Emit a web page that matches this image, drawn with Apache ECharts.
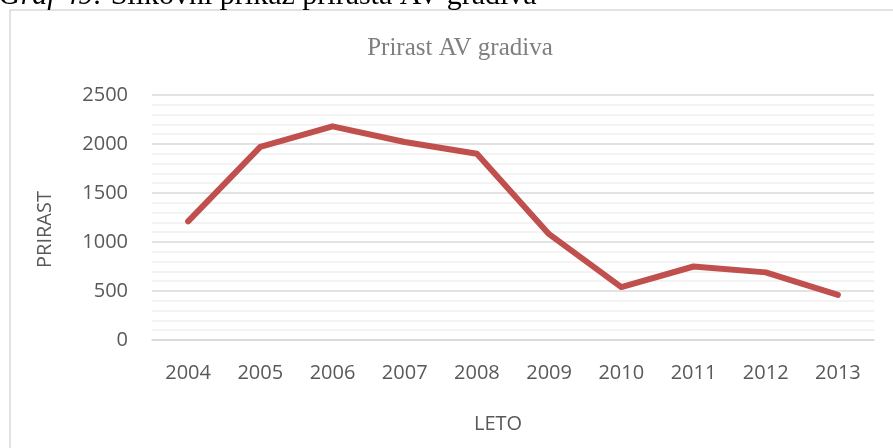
<!DOCTYPE html>
<html>
<head>
<meta charset="utf-8">
<script src="https://cdn.jsdelivr.net/npm/echarts@6/dist/echarts.min.js"></script>
<style>
  html, body { margin: 0; padding: 0; background: #fff; }
  #chart { width: 893px; height: 448px; }
</style>
</head>
<body>
<div id="chart"></div>
<script>
// podatki
const years = ['2004', '2005', '2006', '2007', '2008', '2009', '2010', '2011', '2012', '2013'];
const prirast = [1210, 1970, 2180, 2020, 1900, 1080, 540, 750, 690, 460];

const chart = echarts.init(document.getElementById('chart'));

const labelFont = '"Open Sans", "Liberation Sans", sans-serif';
const serifFont = '"Liberation Serif", "DejaVu Serif", serif';

let option = {
  animation: false,
  title: {
    text: 'Prirast AV gradiva',
    left: 455,
    textAlign: 'center',
    top: 31,
    textStyle: {
      fontFamily: serifFont,
      fontWeight: 'normal',
      fontSize: 25,
      color: '#7f7f7f'
    }
  },
  graphic: [
    {
      type: 'rect',
      shape: { x: 10, y: 10, width: 900, height: 460 },
      style: { fill: 'none', stroke: '#d9d9d9', lineWidth: 1.5 },
      silent: true
    },
    {
      type: 'text',
      left: -1,
      top: -19,
      style: {
        text: '{i|Graf 49:} Slikovni prikaz prirasta AV gradiva',
        font: '30px "Liberation Serif", serif',
        fill: '#000',
        rich: {
          i: { fontStyle: 'italic', fontFamily: serifFont, fontSize: 30, fill: '#000' }
        }
      },
      silent: true
    }
  ],
  grid: {
    left: 152,
    right: 19,
    top: 95,
    bottom: 108
  },
  xAxis: {
    type: 'category',
    data: years,
    boundaryGap: true,
    name: 'LETO',
    nameLocation: 'middle',
    nameGap: 74,
    nameTextStyle: {
      fontFamily: labelFont,
      fontSize: 20,
      color: '#595959',
      padding: [0, 30, 0, 0]
    },
    axisLine: { show: true, lineStyle: { color: '#d9d9d9', width: 1.5 } },
    axisTick: { show: false },
    axisLabel: {
      margin: 23,
      fontFamily: labelFont,
      fontSize: 20,
      color: '#595959'
    }
  },
  yAxis: {
    type: 'value',
    min: 0,
    max: 2500,
    interval: 500,
    name: 'PRIRAST',
    nameLocation: 'middle',
    nameGap: 97,
    nameTextStyle: {
      fontFamily: labelFont,
      fontSize: 20,
      color: '#595959',
      padding: [0, 24, 0, 0]
    },
    axisLine: { show: false },
    axisTick: { show: false },
    axisLabel: {
      margin: 24,
      fontFamily: labelFont,
      fontSize: 20,
      color: '#595959',
      formatter: (v) => String(v)
    },
    splitLine: { show: true, lineStyle: { color: '#d9d9d9', width: 1.5 } },
    minorTick: { show: false, splitNumber: 5 },
    minorSplitLine: { show: true, lineStyle: { color: '#f0f0f0', width: 1.5 } }
  },
  series: [
    {
      name: 'Prirast',
      type: 'line',
      data: prirast,
      symbol: 'none',
      lineStyle: { color: '#c0504d', width: 6, cap: 'round', join: 'round' },
      itemStyle: { color: '#c0504d' }
    }
  ]
};

chart.setOption(option);
</script>
</body>
</html>
